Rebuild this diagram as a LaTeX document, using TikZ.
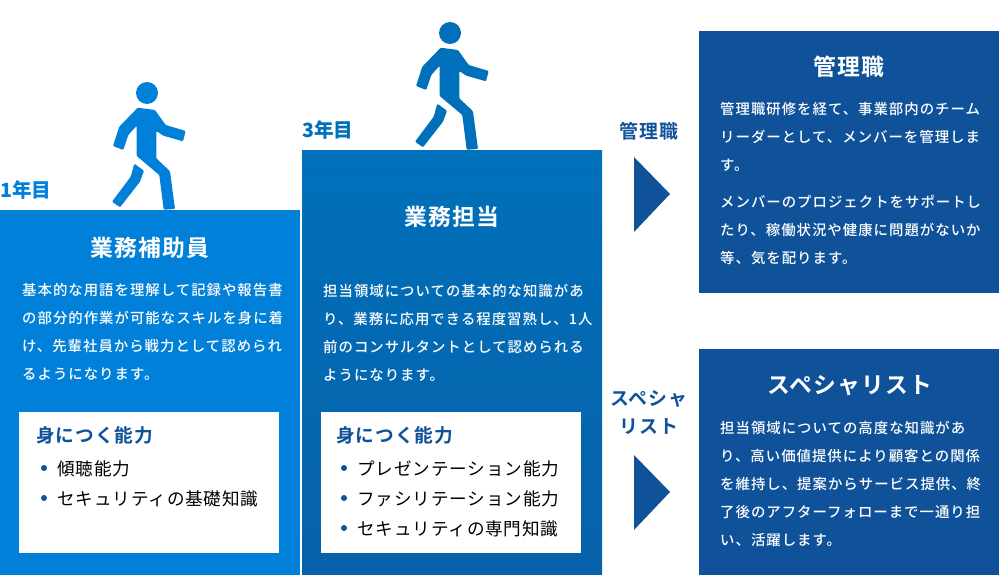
\documentclass[tikz,border=0pt]{standalone}
\usepackage{fontspec}
\setmainfont{Noto Sans CJK JP}
\newfontfamily\bodyfont[LetterSpace=7]{Noto Sans CJK JP Medium}
\newfontfamily\headfont[LetterSpace=5,BoldFont={* Bold}]{Noto Sans CJK JP}
\usetikzlibrary{positioning}
\definecolor{stepone}{HTML}{0080D8}
\definecolor{steptwo}{HTML}{0070BA}
\definecolor{stepthree}{HTML}{0F5299}
\begin{document}
\begin{tikzpicture}[x=1pt,y=-1pt,
  title/.style={text=white,font=\headfont\fontsize{22.8}{26}\selectfont\bfseries},
  body/.style={text=white,inner sep=0pt,anchor=north west,align=left,font=\bodyfont\fontsize{14.4}{28}\selectfont},
  year/.style={inner sep=0pt,anchor=west,font=\fontsize{19.6}{22}\selectfont\bfseries},
  path/.style={text=stepthree,inner sep=0pt,align=center,font=\headfont\fontsize{18.9}{28}\selectfont\bfseries},
  skillhead/.style={text=stepthree,inner sep=0pt,anchor=west,font=\headfont\fontsize{18.7}{22}\selectfont\bfseries},
  item/.style={text=black,inner sep=0pt,anchor=west,font=\headfont\fontsize{17.6}{22}\selectfont},
  bullet/.style={circle,fill=stepthree,inner sep=0pt,minimum size=6pt},
  walker/.pic={
    \fill[pic actions] (0,0) circle (11);
    \fill[pic actions,rounded corners=1pt] (-9.3,14.7) -- (8,17) -- (18.7,32) -- (38.7,38) -- (36,48.3) -- (16.3,42.7) -- (9.3,38) -- (9.3,65.3) -- (23,78.3) -- (28,116) -- (16.7,116.7) -- (12.3,82) -- (-10.3,63) -- (-10.3,32.7) -- (-18.7,42) -- (-23.7,57) -- (-34,53) -- (-27.7,33.7) -- cycle;
    \fill[pic actions,rounded corners=1pt] (-12.7,70.7) -- (-3,77.7) -- (-7,88.7) -- (-27,114.3) -- (-35,108.7) -- (-16.3,83.7) -- cycle;
  }
]
\useasboundingbox (0,0) rectangle (999,575);
% steps
\fill[stepone] (0,210) rectangle (300,575);
\fill[top color=steptwo,bottom color=stepthree!50!steptwo] (302,150.5) rectangle (602,575);
\fill[stepthree] (699,31) rectangle (999,293);
\fill[stepthree] (699,349) rectangle (999,575);
\fill[white] (19,412) rectangle (279,553);
\fill[white] (321,412) rectangle (581,553);
% walkers
\pic[fill=stepone] at (147,93) {walker};
\pic[fill=steptwo] at (450,33) {walker};
% arrows
\fill[stepthree] (634,157) -- (670,194) -- (634,232) -- cycle;
\fill[stepthree] (634,455) -- (670,492) -- (634,530) -- cycle;
% years
\node[year,text=stepone] (yearA) at (0,190) {1年目};
\node[year,text=steptwo] (yearB) at (302,130) {3年目};
\node[path] (pathA) at (649,131) {管理職};
\node[path] (pathB) at (649,413) {スペシャ\\リスト};
% titles
\node[title] (titleA) at (150,248) {業務補助員};
\node[title] (titleB) at (452,217) {業務担当};
\node[title] (titleC) at (849,67) {管理職};
\node[title] (titleD) at (849.5,385.5) {スペシャリスト};
% texts
\node[body] (textA) at (22,283.5) {基本的な用語を理解して記録や報告書\\の部分的作業が可能なスキルを身に着\\け、先輩社員から戦力として認められ\\るようになります。};
\node[body] (textB) at (323,283.5) {担当領域についての基本的な知識があ\\り、業務に応用できる程度習熟し、1人\\前のコンサルタントとして認められる\\ようになります。};
\node[body] (textC) at (720,102.5) {管理職研修を経て、事業部内のチーム\\リーダーとして、メンバーを管理しま\\す。};
\node[body] (textD) at (720,194.5) {メンバーのプロジェクトをサポートし\\たり、稼働状況や健康に問題がないか\\等、気を配ります。};
\node[body] (textE) at (720,420.5) {担当領域についての高度な知識があ\\り、高い価値提供により顧客との関係\\を維持し、提案からサービス提供、終\\了後のアフターフォローまで一通り担\\い、活躍します。};
% skills
\node[skillhead] (headA) at (36,435) {身につく能力};
\node[skillhead] (headB) at (336,435) {身につく能力};
\node[bullet] (dotA) at (44,468) {};
\node[bullet] (dotB) at (44,498) {};
\node[bullet] (dotC) at (344,468) {};
\node[bullet] (dotD) at (344,498) {};
\node[bullet] (dotE) at (344,528) {};
\node[item] (itemA) at (57,469) {傾聴能力};
\node[item] (itemB) at (57,499) {セキュリティの基礎知識};
\node[item] (itemC) at (357,469) {プレゼンテーション能力};
\node[item] (itemD) at (357,499) {ファシリテーション能力};
\node[item] (itemE) at (357,529) {セキュリティの専門知識};
\end{tikzpicture}
\end{document}
